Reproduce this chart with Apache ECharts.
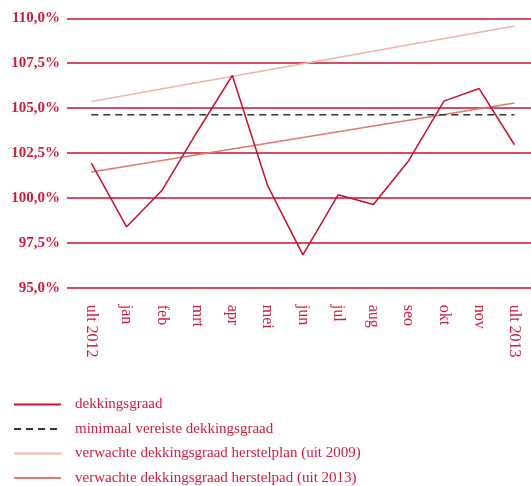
<!DOCTYPE html>
<html>
<head>
<meta charset="utf-8">
<script src="https://cdn.jsdelivr.net/npm/echarts@6/dist/echarts.min.js"></script>
<style>
  html, body { margin: 0; padding: 0; background: #fff; }
  #chart { width: 531px; height: 486px; }
</style>
</head>
<body>
<div id="chart"></div>
<script>
const categories = ["ult 2012", "jan", "feb", "mrt", "apr", "mei", "jun", "jul", "aug", "seo", "okt", "nov", "ult 2013"];
const dekkingsgraad = [101.93, 98.39, 100.41, 103.67, 106.82, 100.68, 96.83, 100.17, 99.63, 102.07, 105.39, 106.09, 102.96];
const minimaalVereist = [104.63, 104.63];
const herstelplan2009 = [105.37, 109.57];
const herstelpad2013 = [101.44, 105.28];
const yTicks = [95, 97.5, 100, 102.5, 105, 107.5, 110];

const RED = "#c8102e";
const TEXT_RED = "#d01c3c";
const FONT = "'Liberation Serif', 'DejaVu Serif', serif";

const last = categories.length - 1;
const endpoints = (arr) => [[0, arr[0]], [last, arr[1]]];

const legendNames = [
  "dekkingsgraad",
  "minimaal vereiste dekkingsgraad",
  "verwachte dekkingsgraad herstelplan (uit 2009)",
  "verwachte dekkingsgraad herstelpad (uit 2013)",
];

const chart = echarts.init(document.getElementById("chart"), null, { renderer: "canvas" });

chart.setOption({
  animation: false,
  grid: { left: 67, right: 0, top: 18.3, bottom: 198.3, containLabel: false },
  xAxis: {
    type: "value",
    min: -0.69,
    max: last + 0.47,
    axisLine: { show: false },
    axisTick: { show: false },
    splitLine: { show: false },
    axisLabel: {
      customValues: categories.map((_, i) => i),
      formatter: (v) => categories[Math.round(v)] ?? "",
      rotate: -90,
      margin: 17,
      color: TEXT_RED,
      fontFamily: FONT,
      fontSize: 16,
    },
  },
  yAxis: {
    type: "value",
    min: yTicks[0],
    max: yTicks[yTicks.length - 1],
    interval: 2.5,
    axisLine: { show: false },
    axisTick: { show: false },
    splitLine: { lineStyle: { color: RED, width: 1.5 } },
    axisLabel: {
      margin: 7,
      color: TEXT_RED,
      fontFamily: FONT,
      fontSize: 15,
      fontWeight: "bold",
      formatter: (v) => v.toFixed(1).replace(".", ",") + "%",
    },
  },
  legend: {
    orient: "vertical",
    left: 8,
    top: 392,
    height: 94,
    itemWidth: 47,
    itemHeight: 14,
    itemGap: 9.5,
    itemStyle: { opacity: 0 },
    textStyle: { color: TEXT_RED, fontFamily: FONT, fontSize: 15, lineHeight: 14, padding: [0, 0, 0, 9] },
    data: legendNames,
  },
  series: [
    {
      name: legendNames[2],
      type: "line",
      symbol: "none",
      data: endpoints(herstelplan2009),
      lineStyle: { color: "#f0b4a9", width: 1.5 },
      itemStyle: { color: "#f0b4a9" },
    },
    {
      name: legendNames[3],
      type: "line",
      symbol: "none",
      data: endpoints(herstelpad2013),
      lineStyle: { color: "#e07a6b", width: 1.5 },
      itemStyle: { color: "#e07a6b" },
    },
    {
      name: legendNames[1],
      type: "line",
      symbol: "none",
      data: endpoints(minimaalVereist),
      lineStyle: { color: "#333333", width: 1.5, type: [7, 5] },
      itemStyle: { color: "#333333" },
    },
    {
      name: legendNames[0],
      type: "line",
      symbol: "none",
      data: dekkingsgraad.map((v, i) => [i, v]),
      lineStyle: { color: RED, width: 1.5 },
      itemStyle: { color: RED },
    },
  ],
});
</script>
</body>
</html>
